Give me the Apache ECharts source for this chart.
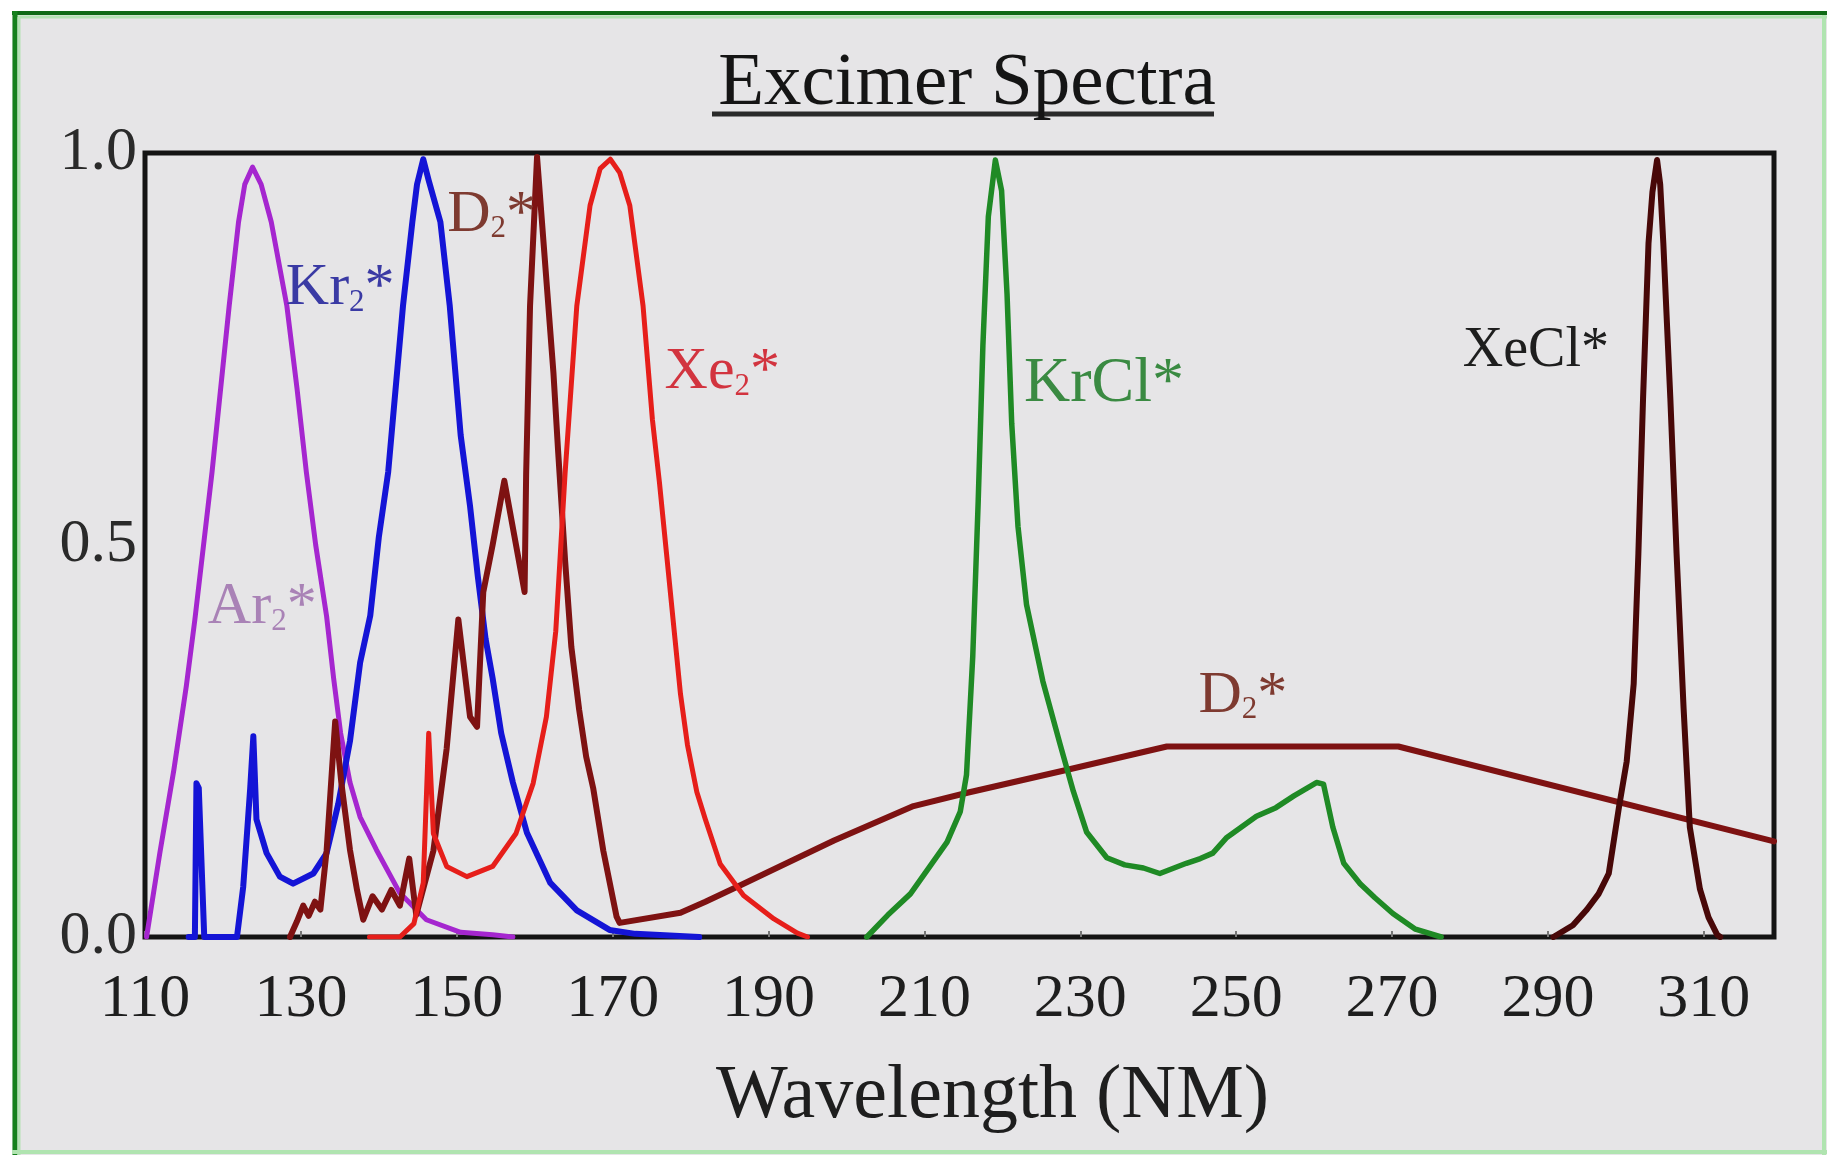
<!DOCTYPE html>
<html>
<head>
<meta charset="utf-8">
<title>Excimer Spectra</title>
<script src="https://cdn.jsdelivr.net/npm/echarts@6/dist/echarts.min.js"></script>
<style>
  html, body { margin: 0; padding: 0; background: #fff; }
  #chart { width: 1827px; height: 1155px; }
</style>
</head>
<body>
<div id="chart"></div>
<script>
// wavelength axis ticks (nm) and intensity ticks
const xTicks = [110, 130, 150, 170, 190, 210, 230, 250, 270, 290, 310];
const yTicks = [0, 0.5, 1.0];

// Ar2* excimer
const ar2Wl = [110.2, 111.9, 113.7, 115.3, 116.4, 118.6, 120.8, 122.0, 122.8, 123.8, 124.9, 126.2, 128.2, 129.5, 130.7, 131.9, 133.3, 134.2, 135.1, 136.3, 137.6, 139.7, 142.7, 146.1, 150.5, 154.6, 157.2];
const ar2Int = [0, 0.107, 0.213, 0.32, 0.405, 0.593, 0.805, 0.912, 0.96, 0.982, 0.96, 0.912, 0.805, 0.70, 0.593, 0.50, 0.409, 0.33, 0.26, 0.197, 0.153, 0.111, 0.056, 0.022, 0.006, 0.003, 0];

// Kr2* excimer
const kr2Wl = [115.6, 116.4, 116.6, 116.9, 117.6, 119.8, 121.8, 122.6, 123.5, 123.9, 124.3, 125.6, 127.3, 129.0, 131.6, 133.3, 134.8, 136.3, 137.6, 138.9, 140.0, 141.2, 143.1, 144.3, 144.9, 145.7, 146.4, 147.9, 149.1, 150.5, 151.7, 152.7, 153.7, 154.6, 155.7, 157.2, 159.0, 162.0, 165.4, 169.6, 172.9, 181.1];
const kr2Int = [0, 0, 0.196, 0.19, 0, 0, 0, 0.064, 0.19, 0.256, 0.15, 0.107, 0.077, 0.068, 0.081, 0.107, 0.17, 0.25, 0.35, 0.41, 0.51, 0.593, 0.805, 0.912, 0.96, 0.992, 0.965, 0.912, 0.805, 0.64, 0.55, 0.46, 0.38, 0.33, 0.26, 0.197, 0.133, 0.069, 0.034, 0.009, 0.004, 0];

// D2* lamp (line spectrum + continuum)
const d2Wl = [128.6, 129.5, 130.3, 131.0, 131.8, 132.5, 133.3, 134.4, 135.2, 136.3, 137.2, 138.0, 139.2, 140.4, 141.6, 142.7, 143.9, 144.8, 147.0, 148.7, 150.2, 151.7, 152.6, 153.4, 154.6, 156.1, 158.7, 158.9, 159.4, 160.3, 161.1, 162.4, 163.0, 163.9, 164.7, 165.7, 166.6, 167.5, 168.8, 170.5, 170.9, 178.7, 181.9, 186.8, 198.4, 208.6, 215.5, 228.2, 241.1, 270.8, 319];
const d2Int = [0, 0.02, 0.04, 0.027, 0.045, 0.035, 0.11, 0.275, 0.196, 0.111, 0.06, 0.022, 0.052, 0.035, 0.06, 0.04, 0.1, 0.028, 0.11, 0.24, 0.405, 0.281, 0.268, 0.44, 0.5, 0.582, 0.44, 0.59, 0.805, 0.995, 0.89, 0.72, 0.62, 0.48, 0.37, 0.29, 0.23, 0.19, 0.11, 0.026, 0.018, 0.031, 0.045, 0.068, 0.123, 0.167, 0.184, 0.213, 0.243, 0.243, 0.122];

// Xe2* excimer
const xe2Wl = [138.8, 142.7, 144.5, 145.7, 146.4, 147.0, 148.7, 151.3, 154.6, 157.6, 159.8, 161.5, 162.7, 163.9, 165.4, 167.1, 168.4, 169.7, 170.9, 172.2, 173.9, 175.1, 176.0, 176.9, 178.0, 178.7, 179.6, 180.8, 181.9, 183.8, 186.8, 190.7, 193.7, 195.0];
const xe2Int = [0, 0, 0.017, 0.069, 0.26, 0.132, 0.09, 0.077, 0.09, 0.132, 0.196, 0.281, 0.39, 0.592, 0.805, 0.933, 0.98, 0.992, 0.975, 0.933, 0.805, 0.66, 0.58, 0.49, 0.38, 0.31, 0.245, 0.185, 0.15, 0.093, 0.053, 0.023, 0.005, 0];

// KrCl* exciplex
const krclWl = [202.6, 205.3, 208.2, 210.7, 212.9, 214.6, 215.4, 216.2, 216.9, 217.5, 218.2, 219.1, 219.9, 220.6, 221.2, 222.0, 223.1, 225.2, 227.4, 229.1, 230.8, 233.4, 235.7, 238.1, 240.2, 243.6, 245.4, 247.0, 248.8, 252.6, 255.1, 257.4, 260.3, 261.2, 262.4, 263.8, 265.9, 267.8, 270.1, 273.0, 276.3];
const krclInt = [0, 0.028, 0.055, 0.09, 0.121, 0.16, 0.207, 0.358, 0.556, 0.754, 0.919, 0.991, 0.952, 0.82, 0.655, 0.524, 0.424, 0.326, 0.246, 0.186, 0.134, 0.101, 0.092, 0.088, 0.081, 0.094, 0.1, 0.107, 0.127, 0.154, 0.165, 0.18, 0.197, 0.195, 0.14, 0.094, 0.068, 0.05, 0.03, 0.01, 0];

// XeCl* exciplex
const xeclWl = [290.7, 293.2, 295.0, 296.5, 297.8, 299.1, 300.1, 301.0, 301.6, 302.2, 302.9, 303.4, 304.0, 304.4, 304.8, 305.7, 306.5, 307.4, 308.2, 309.5, 310.6, 311.7, 312.1];
const xeclInt = [0, 0.015, 0.035, 0.055, 0.081, 0.165, 0.224, 0.323, 0.489, 0.687, 0.885, 0.95, 0.991, 0.96, 0.885, 0.687, 0.489, 0.292, 0.14, 0.061, 0.025, 0.003, 0];

// where each curve's name sits (wavelength, intensity of the text's left middle)
const ar2Tag = [118.0, 0.42];
const kr2Tag = [128.0, 0.827];
const d2TagTop = [148.7, 0.921];
const d2TagLow = [245.1, 0.307];
const xe2Tag = [176.6, 0.72];
const krclTag = [222.7, 0.705];
const xeclTag = [279.0, 0.747];

const serif = '"Liberation Serif", "DejaVu Serif", "Times New Roman", serif';

function pairs(xs, ys) {
    return xs.map((x, i) => [x, ys[i]]);
}

// curve name drawn next to the curve, "2" as subscript
function tag(text, color, coords, size) {
    size = size || 60;
    return {
        symbol: 'circle',
        symbolSize: 1,
        silent: true,
        itemStyle: { color: 'rgba(0,0,0,0)' },
        label: {
            show: true,
            position: 'right',
            distance: 0,
            formatter: text,
            rich: {
                a: { fontFamily: serif, fontSize: size, color: color },
                s: { fontFamily: serif, fontSize: Math.round(size * 0.52), color: color, padding: [Math.round(size * 0.46), 0, 0, 0] }
            }
        },
        data: coords.map((c) => ({ coord: c }))
    };
}

function curve(name, xs, ys, color, width, mark) {
    return {
        name: name,
        type: 'line',
        data: pairs(xs, ys),
        symbol: 'none',
        smooth: false,
        lineStyle: { color: color, width: width, join: 'round', cap: 'round' },
        markPoint: mark
    };
}

const chart = echarts.init(document.getElementById('chart'));

const option = {
    animation: false,
    backgroundColor: '#e6e5e7',
    title: {
        text: 'Excimer Spectra',
        left: 962,
        top: 79,
        textAlign: 'center',
        textVerticalAlign: 'middle',
        textStyle: { fontFamily: serif, fontSize: 75, fontWeight: 'normal', color: '#151515' }
    },
    grid: {
        show: true,
        left: 145,
        right: 53,
        top: 153,
        bottom: 218,
        containLabel: false,
        outerBoundsMode: 'none',
        borderColor: '#141414',
        borderWidth: 5,
        backgroundColor: 'transparent'
    },
    xAxis: {
        type: 'value',
        min: 110,
        max: 319,
        interval: 20,
        axisLine: { show: false },
        axisTick: { show: true, inside: true, length: 6, lineStyle: { color: '#777', width: 2 } },
        splitLine: { show: false },
        axisLabel: {
            margin: 32,
            fontFamily: serif,
            fontSize: 62,
            color: '#1e1e1e',
            showMaxLabel: false,
            formatter: (v) => (xTicks.includes(v) ? String(v) : '')
        },
        name: 'Wavelength (NM)',
        nameLocation: 'middle',
        nameGap: 122,
        nameTextStyle: { fontFamily: serif, fontSize: 76, color: '#1e1e1e', padding: [0, 0, 0, 66] }
    },
    yAxis: {
        type: 'value',
        min: 0,
        max: 1,
        interval: 0.5,
        axisLine: { show: false },
        axisTick: { show: false },
        splitLine: { show: false },
        axisLabel: {
            margin: 8,
            fontFamily: serif,
            fontSize: 62,
            color: '#2a2a2a',
            formatter: (v) => (yTicks.includes(v) ? v.toFixed(1) : '')
        }
    },
    series: [
        curve('Ar2*', ar2Wl, ar2Int, '#a526cf', 5, tag('{a|Ar}{s|2}{a|*}', '#a982b6', [ar2Tag])),
        curve('Kr2*', kr2Wl, kr2Int, '#1414d6', 6, tag('{a|Kr}{s|2}{a|*}', '#3a3aa4', [kr2Tag])),
        curve('D2*', d2Wl, d2Int, '#7e1212', 6, tag('{a|D}{s|2}{a|*}', '#7e3a30', [d2TagTop, d2TagLow])),
        curve('Xe2*', xe2Wl, xe2Int, '#e61e1a', 5, tag('{a|Xe}{s|2}{a|*}', '#d2343f', [xe2Tag])),
        curve('KrCl*', krclWl, krclInt, '#1f8a25', 5.5, tag('{a|KrCl*}', '#3a8a42', [krclTag], 64)),
        curve('XeCl*', xeclWl, xeclInt, '#480808', 6, tag('{a|XeCl*}', '#1e1e1e', [xeclTag], 56))
    ],
    graphic: [
        // white margin outside the picture frame
        { type: 'rect', silent: true, shape: { x: 0, y: 0, width: 1827, height: 11 }, style: { fill: '#fff' } },
        { type: 'rect', silent: true, shape: { x: 0, y: 0, width: 12, height: 1155 }, style: { fill: '#fff' } },
        // green frame
        { type: 'line', silent: true, shape: { x1: 12, y1: 13, x2: 1827, y2: 13 }, style: { stroke: '#0f6a16', lineWidth: 4 } },
        { type: 'line', silent: true, shape: { x1: 14, y1: 17, x2: 1827, y2: 17 }, style: { stroke: '#b4e2b4', lineWidth: 3 } },
        { type: 'line', silent: true, shape: { x1: 15, y1: 11, x2: 15, y2: 1155 }, style: { stroke: '#15801c', lineWidth: 5 } },
        { type: 'line', silent: true, shape: { x1: 19, y1: 17, x2: 19, y2: 1155 }, style: { stroke: '#b4e2b4', lineWidth: 3 } },
        { type: 'line', silent: true, shape: { x1: 1824, y1: 15, x2: 1824, y2: 1155 }, style: { stroke: '#b0e4b0', lineWidth: 4 } },
        { type: 'line', silent: true, shape: { x1: 12, y1: 1152, x2: 1827, y2: 1152 }, style: { stroke: '#b0e4b0', lineWidth: 4 } },
        // title underline
        { type: 'line', silent: true, shape: { x1: 712, y1: 114, x2: 1214, y2: 114 }, style: { stroke: '#2a2a2a', lineWidth: 5 } }
    ]
};

chart.setOption(option);
</script>
</body>
</html>
